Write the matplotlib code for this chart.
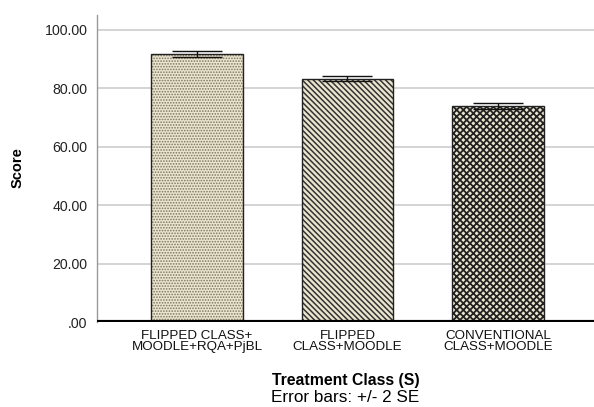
import matplotlib
matplotlib.use("Agg")
import matplotlib.pyplot as plt

categories = ["FLIPPED CLASS+\nMOODLE+RQA+PjBL", "FLIPPED\nCLASS+MOODLE", "CONVENTIONAL\nCLASS+MOODLE"]
means = [91.6, 83.2, 73.8]
err2se = [1.0, 0.9, 1.0]
yticks = [0, 20, 40, 60, 80, 100]
ytick_labels = [".00", "20.00", "40.00", "60.00", "80.00", "100.00"]
hatches = ["......", "\\\\\\\\\\\\", "xxxxx"]
hatch_colors = ["#7a7460", "#333333", "#222222"]

plt.rcParams['font.family'] = ['Liberation Sans', 'DejaVu Sans']

fig = plt.figure(figsize=(5.94, 4.07), dpi=100)
ax = fig.add_axes([97/594, 1 - 322/407, (594 - 97)/594, (322 - 15)/407])

x = list(range(len(categories)))
ax.set_ylim(0, 105)
ax.set_xlim(-0.664, 2.638)
for yv in yticks[1:]:
    ax.axhline(yv, color='#d4d4d4', lw=1.4, zorder=0)

hlw = [0.8, 1.1, 1.3]
for i in x:
    plt.rcParams['hatch.linewidth'] = hlw[i]
    ax.bar(i, means[i], width=0.61, color='#ebe5cf', edgecolor=hatch_colors[i],
           hatch=hatches[i], linewidth=0, zorder=2)
    ax.bar(i, means[i], width=0.61, color='none', edgecolor='#222222',
           linewidth=1.0, zorder=3)
ax.errorbar(x, means, yerr=err2se, fmt='none', ecolor='#111111', elinewidth=1.0,
            capsize=18, capthick=1.0, zorder=4)

ax.axhline(0, color='black', lw=3, zorder=5)
for s in ['top', 'right', 'bottom']:
    ax.spines[s].set_visible(False)
ax.spines['left'].set_color('#999999')
ax.spines['left'].set_linewidth(1.0)

ax.set_yticks(yticks)
ax.set_yticklabels(ytick_labels, fontsize=10.2, color='#222222')
ax.tick_params(axis='y', length=0, pad=7)
ax.set_xticks(x)
ax.set_xticklabels(categories, fontsize=9.6, color='#111111', linespacing=0.9)
ax.tick_params(axis='x', length=0, pad=6)

fig.text(18/594, 1 - 168/407, "Score", rotation=90, ha='center', va='center',
         fontsize=10.5, fontweight='bold')
fig.text(345.5/594, 1 - 381/407, "Treatment Class (S)", ha='center', va='center',
         fontsize=11.3, fontweight='bold')
fig.text(345.5/594, 1 - 398/407, "Error bars: +/- 2 SE", ha='center', va='center',
         fontsize=12.3)

fig.savefig("out.png", dpi=100)
